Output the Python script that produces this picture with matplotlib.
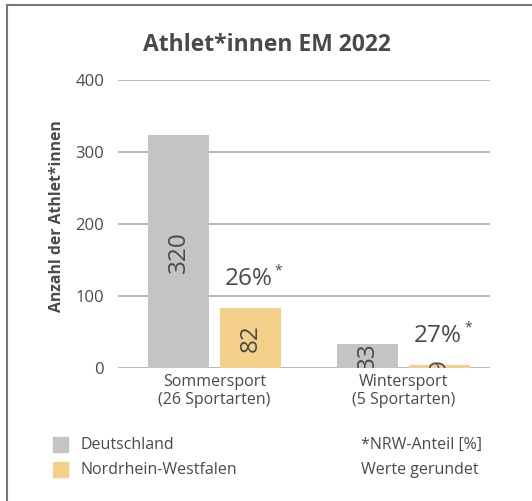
import matplotlib
matplotlib.use("Agg")
import matplotlib.pyplot as plt
from matplotlib.patches import Rectangle
from matplotlib.lines import Line2D
import numpy as np

plt.rcParams["font.family"] = ["Open Sans", "DejaVu Sans"]

# data (bar heights, labels as printed - "Werte gerundet")
categories = ["Sommersport\n(26 Sportarten)", "Wintersport\n(5 Sportarten)"]
deutschland = [323, 33]
nrw = [83, 4]
deutschland_labels = ["320", "33"]
nrw_labels = ["82", "9"]
nrw_share = ["26%", "27%"]
series_names = ["Deutschland", "Nordrhein-Westfalen"]
y_ticks = [0, 100, 200, 300, 400]

TEXT = "#4a4a4a"
GRAY = "#c4c4c4"
YELLOW = "#f5d08b"
GRID = "#a6a6a6"

fig = plt.figure(figsize=(5.32, 5.01), dpi=100)
ax = fig.add_axes([118 / 532, 1 - 368 / 501, 372 / 532, 288 / 501])

x = np.arange(len(categories))
offset = 0.19
width = 0.323

ax.bar(x - offset, deutschland, width=width, color=GRAY, zorder=3)
ax.bar(x + offset, nrw, width=width, color=YELLOW, zorder=3)

for i in range(len(categories)):
    ax.text(x[i] - offset, deutschland[i] / 2, deutschland_labels[i], rotation=90,
            ha="center", va="center", fontsize=17.5, color=TEXT, zorder=4, clip_on=True)
    ax.text(x[i] + offset, nrw[i] / 2, nrw_labels[i], rotation=90,
            ha="center", va="center", fontsize=17.5, color=TEXT, zorder=4, clip_on=True)
    ax.text(x[i] + offset + 0.118, nrw[i] + 41, nrw_share[i], ha="right", va="center",
            fontsize=17.5, color=TEXT, zorder=4)
    ax.text(x[i] + offset + 0.13, nrw[i] + 52, "*", ha="left", va="center",
            fontsize=10, color=TEXT, zorder=4)

ax.set_xlim(-0.51, 1.458)
ax.set_ylim(0, 400)
ax.set_yticks(y_ticks)
ax.set_yticklabels([str(t) for t in y_ticks], fontsize=12, color=TEXT)
ax.set_xticks(x)
ax.set_xticklabels(categories, fontsize=11.5, color=TEXT, linespacing=1.2)
ax.tick_params(axis="both", length=0, pad=10)
ax.tick_params(axis="x", pad=4)
ax.yaxis.grid(True, color=GRID, linewidth=1.1, zorder=0)
for s in ax.spines.values():
    s.set_visible(False)
ax.set_ylabel("Anzahl der Athlet*innen", fontsize=11.3, fontweight="bold", color=TEXT)
ax.yaxis.set_label_coords(-0.142, 0.528)

fig.text(267 / 532, 1 - 45 / 501, "Athlet*innen EM 2022", ha="center", va="center",
         fontsize=16.5, fontweight="bold", color=TEXT)

# legend
fig.patches.append(Rectangle((53 / 532, 1 - 452 / 501), 15 / 532, 15 / 501,
                             transform=fig.transFigure, color=GRAY))
fig.patches.append(Rectangle((53 / 532, 1 - 477 / 501), 15 / 532, 15 / 501,
                             transform=fig.transFigure, color=YELLOW))
fig.text(80 / 532, 1 - 445 / 501, series_names[0], ha="left", va="center",
         fontsize=11.5, color=TEXT)
fig.text(80 / 532, 1 - 470 / 501, series_names[1], ha="left", va="center",
         fontsize=11.5, color=TEXT)
fig.text(482 / 532, 1 - 445 / 501, "*NRW-Anteil [%]", ha="right", va="center",
         fontsize=11.5, color=TEXT)
fig.text(479 / 532, 1 - 470 / 501, "Werte gerundet", ha="right", va="center",
         fontsize=11.5, color=TEXT)

# frame (top and left)
fig.lines.append(Line2D([7 / 532, 1], [1 - 5 / 501, 1 - 5 / 501],
                        transform=fig.transFigure, color="#777777", linewidth=1.5))
fig.lines.append(Line2D([7 / 532, 7 / 532], [0, 1 - 5 / 501],
                        transform=fig.transFigure, color="#777777", linewidth=1.5))

fig.savefig("out.png", dpi=100)
